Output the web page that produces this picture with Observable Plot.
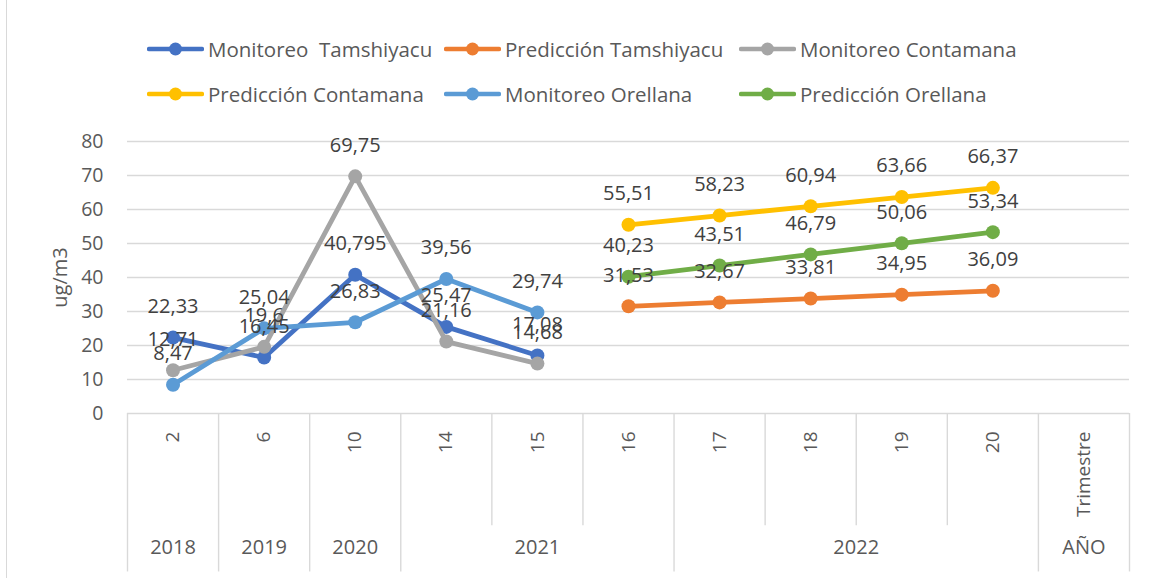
<!DOCTYPE html>
<html><head><meta charset="utf-8">
<script src="https://cdn.jsdelivr.net/npm/d3@7"></script>
<script src="https://cdn.jsdelivr.net/npm/@observablehq/plot@0.6"></script>
<style>
body{margin:0;background:#fff;font-family:"Open Sans",sans-serif;}
#wrap{position:relative;width:1149px;height:578px;overflow:hidden;background:#fff;}
#edge{position:absolute;left:6px;top:0;width:0;height:578px;border-left:1px solid #d9d9d9;}
#legend{position:relative;height:120px;}
.item{position:absolute;height:30px;display:flex;align-items:center;font-size:20.5px;color:#595959;white-space:pre;}
.item svg{margin-right:4px;}
#chart svg{display:block;}
</style></head><body>
<div id="wrap"><div id="edge"></div><div id="legend"></div><div id="chart"></div></div>
<script>
// ---- data ----
const categories = ["2","6","10","14","15","16","17","18","19","20","Trimestre"];
const years = ["2018","2019","2020","2021","2022","AÑO"];
const yearSpans = [1,1,1,3,4,1];
const yTicks = [0,10,20,30,40,50,60,70,80];
const seriesNames = ["Monitoreo  Tamshiyacu","Predicción Tamshiyacu","Monitoreo Contamana","Predicción Contamana","Monitoreo Orellana","Predicción Orellana"];
const seriesColors = ["#4472C4","#ED7D31","#A5A5A5","#FFC000","#5B9BD5","#70AD47"];
const monTamshiyacu = [22.33,16.45,40.795,25.47,17.08,null,null,null,null,null,null];
const predTamshiyacu = [null,null,null,null,null,31.53,32.67,33.81,34.95,36.09,null];
const monContamana = [12.71,19.6,69.75,21.16,14.68,null,null,null,null,null,null];
const predContamana = [null,null,null,null,null,55.51,58.23,60.94,63.66,66.37,null];
const monOrellana = [8.47,25.04,26.83,39.56,29.74,null,null,null,null,null,null];
const predOrellana = [null,null,null,null,null,40.23,43.51,46.79,50.06,53.34,null];
const seriesValues = [monTamshiyacu,predTamshiyacu,monContamana,predContamana,monOrellana,predOrellana];

// ---- legend ----
const legend = document.getElementById("legend");
const legendCols = [147,444,739];
const legendRows = [34,79];
seriesNames.forEach((name,k)=>{
  const div = document.createElement("div");
  div.className = "item";
  div.style.left = legendCols[k%3]+"px";
  div.style.top = legendRows[Math.floor(k/3)]+"px";
  const c = seriesColors[k];
  div.innerHTML = `<svg width="57" height="16"><line x1="2" x2="55" y1="8" y2="8" stroke="${c}" stroke-width="4.5" stroke-linecap="round"/><circle cx="28.5" cy="8" r="6.5" fill="${c}"/></svg>`;
  div.appendChild(document.createTextNode(name));
  legend.appendChild(div);
});

// ---- table structures ----
const rows = [];
seriesValues.forEach((vals,k)=>vals.forEach((v,i)=>{ if(v!=null) rows.push({k, i, value:v, label:String(v).replace(".",",")}); }));
const groups = [];
let start = 0;
years.forEach((y,j)=>{ groups.push({year:y, start, end:start+yearSpans[j]-1, center:start+(yearSpans[j]-1)/2}); start += yearSpans[j]; });
const longBounds = [-0.5, ...groups.map(g=>g.end+0.5)];
const shortBounds = [];
groups.forEach(g=>{ for(let b=g.start+0.5;b<g.end;b++) shortBounds.push(b); });
const shortDepth = -33, longDepth = -46.6;

const marks = [
  Plot.ruleY(yTicks, {x1:-0.5, x2:categories.length-0.5, y:d=>d, stroke:"#d9d9d9", strokeWidth:1.4}),
  Plot.ruleX(longBounds, {x:d=>d, y1:0, y2:longDepth, stroke:"#d9d9d9", strokeWidth:1.4}),
  Plot.ruleX(shortBounds, {x:d=>d, y1:0, y2:shortDepth, stroke:"#d9d9d9", strokeWidth:1.4}),
  Plot.text(yTicks, {x:-0.5, y:d=>d, text:d=>String(d), dx:-24, textAnchor:"end", fontSize:19.5, fill:"#595959"}),
  Plot.text(categories, {x:(d,i)=>i, y:0, text:d=>d, rotate:-90, textAnchor:"end", dy:18, fontSize:19, fill:"#595959", ariaLabel:"cat-labels"}),
  Plot.text(groups, {x:"center", frameAnchor:"bottom", dy:140, text:"year", fontSize:20, fill:"#595959"}),
  Plot.text(["ug/m3"], {frameAnchor:"left", dx:-67, rotate:-90, textAnchor:"middle", text:d=>d, fontSize:20, fill:"#595959"})
];
seriesValues.forEach((vals,k)=>{
  const data = rows.filter(r=>r.k===k);
  marks.push(Plot.line(data, {x:"i", y:"value", stroke:seriesColors[k], strokeWidth:4.8, strokeLinejoin:"round", strokeLinecap:"round"}));
  marks.push(Plot.dot(data, {x:"i", y:"value", fill:seriesColors[k], r:7}));
});
marks.push(Plot.text(rows, {x:"i", y:"value", text:"label", dy:-31, fontSize:20, fill:"#404040"}));

const chart = Plot.plot({
  width:1149, height:458,
  marginLeft:127, marginRight:20, marginTop:21, marginBottom:165,
  style:{fontFamily:"'Open Sans', sans-serif", background:"transparent", overflow:"visible"},
  x:{type:"linear", domain:[-0.5, categories.length-0.5], axis:null},
  y:{domain:[0,80], axis:null},
  marks
});
d3.select(chart).selectAll('g[aria-label="cat-labels"] text').style("letter-spacing","1.8px");
document.getElementById("chart").appendChild(chart);
</script>
</body></html>
